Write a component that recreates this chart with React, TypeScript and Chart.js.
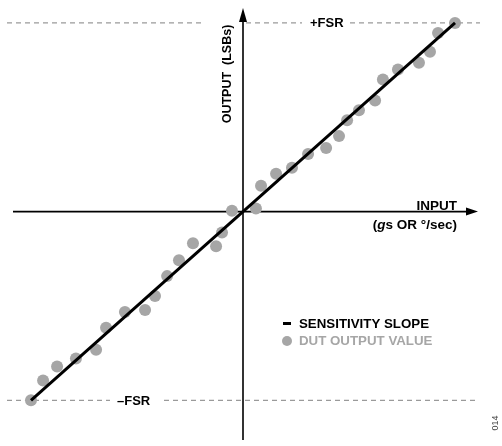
import React, { useEffect, useRef } from "react";
import { Chart, registerables } from "chart.js";

Chart.register(...registerables);

// Sensitivity slope endpoints (normalized input vs. output, ±FSR = ±1)
const slopeX = [-1, 1];
const slopeY = [-1, 1];

// DUT output values (normalized)
const dutX = [
  -1.0, -0.943, -0.877, -0.788, -0.693, -0.646, -0.557, -0.462, -0.415, -0.358,
  -0.302, -0.236, -0.127, -0.099, -0.052, 0.061, 0.085, 0.156, 0.231, 0.307,
  0.392, 0.453, 0.491, 0.547, 0.623, 0.66, 0.731, 0.83, 0.882, 0.92, 1.0,
];
const dutY = [
  -1.0, -0.895, -0.821, -0.779, -0.732, -0.616, -0.532, -0.521, -0.447, -0.342,
  -0.258, -0.168, -0.184, -0.111, 0.005, 0.016, 0.137, 0.2, 0.232, 0.305,
  0.337, 0.4, 0.484, 0.537, 0.589, 0.7, 0.753, 0.789, 0.847, 0.947, 1.0,
];

const fsrLevels = [1, -1];
const fsrLabels = ["+FSR", "\u2013FSR"];
const legendLabels = ["SENSITIVITY SLOPE", "DUT OUTPUT VALUE"];
const yAxisTitle = "OUTPUT  (LSBs)";
const xAxisTitle1 = "INPUT";
const figureNumber = "014";

const FONT = "'Liberation Sans', Arial, sans-serif";
const DOT = "#a6a6a6";

const overlay = {
  id: "overlay",
  beforeDatasetsDraw(chart: any) {
    const ctx = chart.ctx as CanvasRenderingContext2D;
    const xs = chart.scales.x;
    const ys = chart.scales.y;
    const area = chart.chartArea;
    const x0 = xs.getPixelForValue(0);
    const y0 = ys.getPixelForValue(0);
    ctx.save();
    // dashed FSR lines
    ctx.strokeStyle = "#9a9a9a";
    ctx.lineWidth = 1.3;
    ctx.setLineDash([5, 4]);
    const yTop = ys.getPixelForValue(fsrLevels[0]);
    const yBot = ys.getPixelForValue(fsrLevels[1]);
    const segs: [number, number, number][] = [
      [area.left, 205, yTop],
      [246, 302, yTop],
      [350, area.right, yTop],
      [area.left, 110, yBot],
      [164, area.right - 2, yBot],
    ];
    segs.forEach(([a, b, y]) => {
      ctx.beginPath();
      ctx.moveTo(a, y);
      ctx.lineTo(b, y);
      ctx.stroke();
    });
    ctx.setLineDash([]);

    // axes
    ctx.strokeStyle = "#000";
    ctx.fillStyle = "#000";
    ctx.lineWidth = 1.6;
    ctx.beginPath();
    ctx.moveTo(13, y0);
    ctx.lineTo(area.right - 8, y0);
    ctx.stroke();
    ctx.beginPath();
    ctx.moveTo(x0, area.bottom);
    ctx.lineTo(x0, area.top + 8);
    ctx.stroke();
    // arrow heads
    ctx.beginPath();
    ctx.moveTo(area.right - 2, y0);
    ctx.lineTo(area.right - 14, y0 - 4);
    ctx.lineTo(area.right - 14, y0 + 4);
    ctx.closePath();
    ctx.fill();
    ctx.beginPath();
    ctx.moveTo(x0, area.top - 2);
    ctx.lineTo(x0 - 4, area.top + 12);
    ctx.lineTo(x0 + 4, area.top + 12);
    ctx.closePath();
    ctx.fill();
    ctx.restore();
  },
  afterDatasetsDraw(chart: any) {
    const ctx = chart.ctx as CanvasRenderingContext2D;
    const ys = chart.scales.y;
    const yTop = ys.getPixelForValue(fsrLevels[0]);
    const yBot = ys.getPixelForValue(fsrLevels[1]);
    ctx.save();
    ctx.fillStyle = "#000";
    ctx.font = `bold 13px ${FONT}`;
    ctx.textBaseline = "middle";
    ctx.textAlign = "left";
    ctx.fillText(fsrLabels[0], 310, yTop + 1);
    ctx.fillText(fsrLabels[1], 117, yBot + 1);

    // y axis title
    ctx.save();
    ctx.translate(228, 74);
    ctx.rotate(-Math.PI / 2);
    ctx.textAlign = "center";
    ctx.font = `bold 12.5px ${FONT}`;
    ctx.fillText(yAxisTitle, 0, 0);
    ctx.restore();

    // x axis title
    ctx.textAlign = "right";
    ctx.font = `bold 13.5px ${FONT}`;
    ctx.fillText(xAxisTitle1, 457, 206);
    // "(gs OR °/sec)" with italic g
    const partA = "(";
    const partG = "g";
    const partB = "s OR \u00b0/sec)";
    const fs = 13.5;
    ctx.textAlign = "left";
    ctx.font = `bold ${fs}px ${FONT}`;
    const wA = ctx.measureText(partA).width;
    const wB = ctx.measureText(partB).width;
    ctx.font = `italic bold ${fs}px ${FONT}`;
    const wG = ctx.measureText(partG).width;
    let sx = 457 - (wA + wG + wB);
    const ty = 225;
    ctx.font = `bold ${fs}px ${FONT}`;
    ctx.fillText(partA, sx, ty);
    sx += wA;
    ctx.font = `italic bold ${fs}px ${FONT}`;
    ctx.fillText(partG, sx, ty);
    sx += wG;
    ctx.font = `bold ${fs}px ${FONT}`;
    ctx.fillText(partB, sx, ty);

    // legend
    ctx.fillStyle = "#000";
    ctx.fillRect(283, 322, 8, 3);
    ctx.font = `bold 13.3px ${FONT}`;
    ctx.fillText(legendLabels[0], 299, 324);
    ctx.fillStyle = DOT;
    ctx.beginPath();
    ctx.arc(287, 341, 5, 0, Math.PI * 2);
    ctx.fill();
    ctx.fillText(legendLabels[1], 299, 341);

    // figure number
    ctx.save();
    ctx.fillStyle = "#444";
    ctx.font = `9px ${FONT}`;
    ctx.translate(496, 423);
    ctx.rotate(-Math.PI / 2);
    ctx.textAlign = "center";
    ctx.fillText(figureNumber, 0, 0);
    ctx.restore();
    ctx.restore();
  },
};

export default function App() {
  const ref = useRef<HTMLCanvasElement | null>(null);
  useEffect(() => {
    if (!ref.current) return;
    const chart = new Chart(ref.current, {
      type: "scatter",
      data: {
        datasets: [
          {
            type: "scatter",
            label: legendLabels[1],
            data: dutX.map((x, i) => ({ x, y: dutY[i] })),
            backgroundColor: DOT,
            borderWidth: 0,
            pointRadius: 6,
            order: 2,
          },
          {
            type: "line",
            label: legendLabels[0],
            data: slopeX.map((x, i) => ({ x, y: slopeY[i] })),
            borderColor: "#000",
            borderWidth: 3,
            pointRadius: 0,
            fill: false,
            order: 1,
          } as any,
        ],
      },
      options: {
        responsive: false,
        animation: false,
        layout: { padding: { left: 7, right: 22, top: 10, bottom: 3 } },
        plugins: { legend: { display: false }, tooltip: { enabled: false } },
        scales: {
          x: { type: "linear", min: -1.1132, max: 1.1179, display: false },
          y: { type: "linear", min: -1.2105, max: 1.0684, display: false },
        },
      },
      plugins: [overlay],
    });
    return () => chart.destroy();
  }, []);
  return (
    <div style={{ position: "fixed", left: 0, top: 0, width: 502, height: 446, background: "#fff" }}>
      <canvas ref={ref} width={502} height={446} style={{ display: "block" }} />
    </div>
  );
}
